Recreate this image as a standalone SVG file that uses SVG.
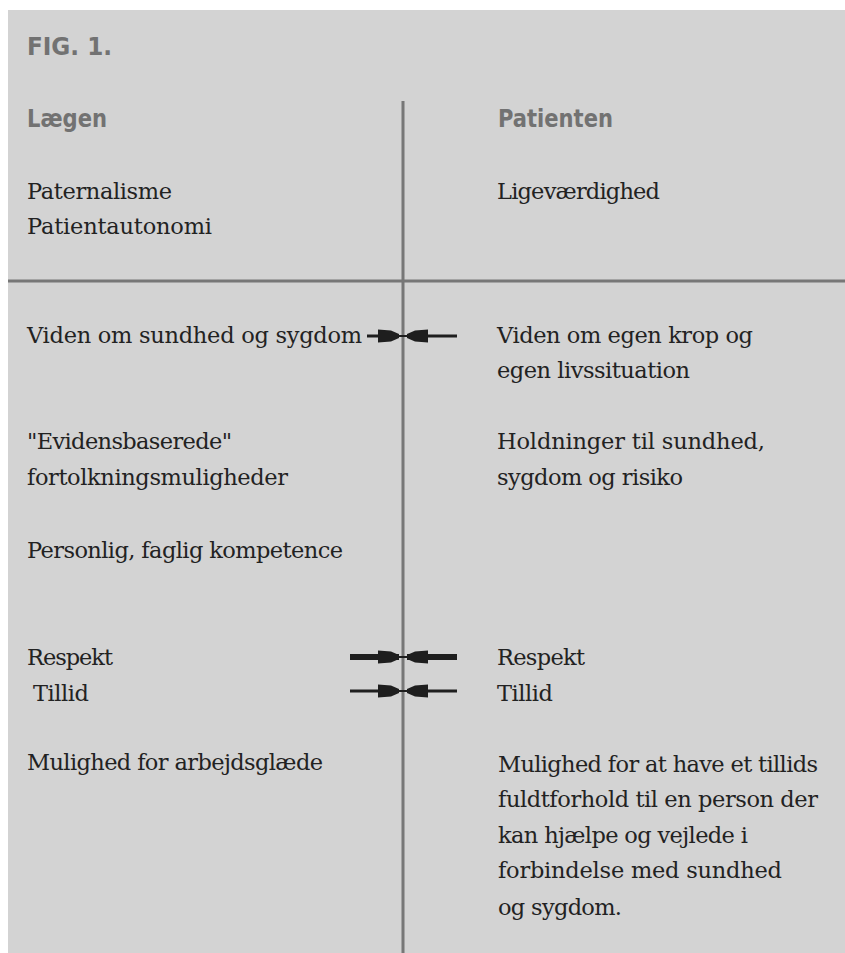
<svg xmlns="http://www.w3.org/2000/svg" width="845" height="953" viewBox="0 0 845 953">
<style>
.bg{fill:#d3d3d3}
.rule{stroke:#777;stroke-width:3;fill:none}
.hd{font-family:"DejaVu Sans","Liberation Sans",sans-serif;font-weight:bold;font-stretch:condensed;font-size:24px;fill:#727272}
.tx{font-family:"DejaVu Serif","Liberation Serif",serif;font-size:22.5px;fill:#222}
.ln{stroke:#1e1e1e;fill:none}
</style>
<defs>
<marker id="head" markerUnits="userSpaceOnUse" viewBox="0 -8 22 16" refX="21" refY="0" markerWidth="22" markerHeight="16" orient="auto">
<path d="M0,-6.5 L13,-5.5 L21,-2 L21,2 L13,5.5 L0,6.5 Z" fill="#1e1e1e"/>
</marker>
</defs>
<rect class="bg" x="8" y="10" width="837" height="943"/>
<g id="frame">
<line class="rule" x1="403" y1="101" x2="403" y2="953"/>
<line class="rule" x1="8" y1="281" x2="845" y2="281"/>
</g>
<g id="title"><text class="hd" x="27" y="55" textLength="85" lengthAdjust="spacingAndGlyphs" style="font-size:25px">FIG. 1.</text></g>
<g id="left-head"><text class="hd" x="27" y="127" textLength="80" lengthAdjust="spacingAndGlyphs">Lægen</text></g>
<g id="right-head"><text class="hd" x="498" y="127" textLength="115" lengthAdjust="spacingAndGlyphs">Patienten</text></g>
<g id="left-top">
<text class="tx" x="27" y="199" textLength="145" lengthAdjust="spacing">Paternalisme</text>
<text class="tx" x="27" y="234" textLength="185" lengthAdjust="spacing">Patientautonomi</text>
</g>
<g id="right-top">
<text class="tx" x="497" y="199" textLength="163" lengthAdjust="spacing">Ligeværdighed</text>
</g>
<g id="left-viden"><text class="tx" x="27" y="343" textLength="335" lengthAdjust="spacing">Viden om sundhed og sygdom</text></g>
<g id="right-viden">
<text class="tx" x="497" y="343" textLength="256" lengthAdjust="spacing">Viden om egen krop og</text>
<text class="tx" x="497" y="378" textLength="193" lengthAdjust="spacing">egen livssituation</text>
</g>
<g id="left-evidens">
<text class="tx" x="27" y="449" textLength="205" lengthAdjust="spacing">"Evidensbaserede"</text>
<text class="tx" x="27" y="485" textLength="261" lengthAdjust="spacing">fortolkningsmuligheder</text>
</g>
<g id="right-holdninger">
<text class="tx" x="497" y="449" textLength="268" lengthAdjust="spacing">Holdninger til  sundhed,</text>
<text class="tx" x="497" y="485" textLength="186" lengthAdjust="spacing">sygdom og risiko</text>
</g>
<g id="left-personlig"><text class="tx" x="27" y="558" textLength="316" lengthAdjust="spacing">Personlig, faglig kompetence</text></g>
<g id="left-respekt"><text class="tx" x="27" y="665" textLength="86" lengthAdjust="spacing">Respekt</text></g>
<g id="left-tillid"><text class="tx" x="33" y="701" textLength="56" lengthAdjust="spacing">Tillid</text></g>
<g id="right-respekt"><text class="tx" x="497" y="665" textLength="88" lengthAdjust="spacing">Respekt</text></g>
<g id="right-tillid"><text class="tx" x="497" y="701" textLength="56" lengthAdjust="spacing">Tillid</text></g>
<g id="left-mulighed"><text class="tx" x="27" y="770" textLength="296" lengthAdjust="spacing">Mulighed for arbejdsglæde</text></g>
<g id="right-mulighed">
<text class="tx" x="498" y="772" textLength="320" lengthAdjust="spacing">Mulighed for at have et tillids</text>
<text class="tx" x="498" y="807" textLength="320" lengthAdjust="spacing">fuldtforhold til en person der</text>
<text class="tx" x="498" y="843" textLength="250" lengthAdjust="spacing">kan hjælpe og vejlede i</text>
<text class="tx" x="498" y="878" textLength="284" lengthAdjust="spacing">forbindelse med sundhed</text>
<text class="tx" x="498" y="915" textLength="124" lengthAdjust="spacing">og sygdom.</text>
</g>
<g id="connectors">
<line class="ln" x1="394" y1="336" x2="412" y2="336" stroke-width="2"/>
<line class="ln" x1="367" y1="336" x2="399" y2="336" stroke-width="3" marker-end="url(#head)"/>
<line class="ln" x1="457" y1="336" x2="407" y2="336" stroke-width="3" marker-end="url(#head)"/>
<line class="ln" x1="394" y1="657" x2="412" y2="657" stroke-width="2"/>
<line class="ln" x1="350" y1="657" x2="399" y2="657" stroke-width="6" marker-end="url(#head)"/>
<line class="ln" x1="457" y1="657" x2="407" y2="657" stroke-width="6" marker-end="url(#head)"/>
<line class="ln" x1="394" y1="691" x2="412" y2="691" stroke-width="2"/>
<line class="ln" x1="350" y1="691" x2="399" y2="691" stroke-width="3" marker-end="url(#head)"/>
<line class="ln" x1="457" y1="691" x2="407" y2="691" stroke-width="3" marker-end="url(#head)"/>
</g>
</svg>
